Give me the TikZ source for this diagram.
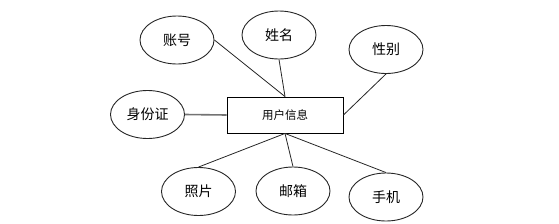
\documentclass[tikz,border=0pt]{standalone}
\usepackage{fontspec}
\newfontfamily\cjk{Noto Sans CJK SC}
\usetikzlibrary{shapes.geometric}
\begin{document}
\begin{tikzpicture}[x=1pt,y=-1pt,
  attr/.style={ellipse,draw=black!85,line width=0.9pt,minimum width=74pt,minimum height=48pt,inner sep=0pt,font=\cjk\fontsize{14pt}{16pt}\selectfont},
  ent/.style={rectangle,draw=black,line width=0.9pt,minimum width=116pt,minimum height=36pt,inner sep=0pt,font=\cjk\fontsize{11.5pt}{14pt}\selectfont},
  link/.style={draw=black!85,line width=0.8pt}]
\useasboundingbox (0,0) rectangle (559,223);
\node[ent] (r) at (285,115) {用户信息};
\node[attr] (zh) at (177,40) {账号};
\node[attr] (xm) at (279,35) {姓名};
\node[attr] (xb) at (386,49.5) {性别};
\node[attr] (sf) at (147.5,114.5) {身份证};
\node[attr] (zp) at (198.5,191.5) {照片};
\node[attr] (yx) at (293,191) {邮箱};
\node[attr] (sj) at (386,197) {手机};
\draw[link] (zh.east) -- (r.north);
\draw[link] (xm.south) -- (r.north);
\draw[link] (xb.south) -- (r.east);
\draw[draw=black!55,line width=1.6pt] (sf.east) -- (r.west);
\draw[link] (zp.north) -- (r.south);
\draw[link] (yx.north) -- (r.south);
\draw[link] (sj.north) -- (r.south);
\end{tikzpicture}
\end{document}
